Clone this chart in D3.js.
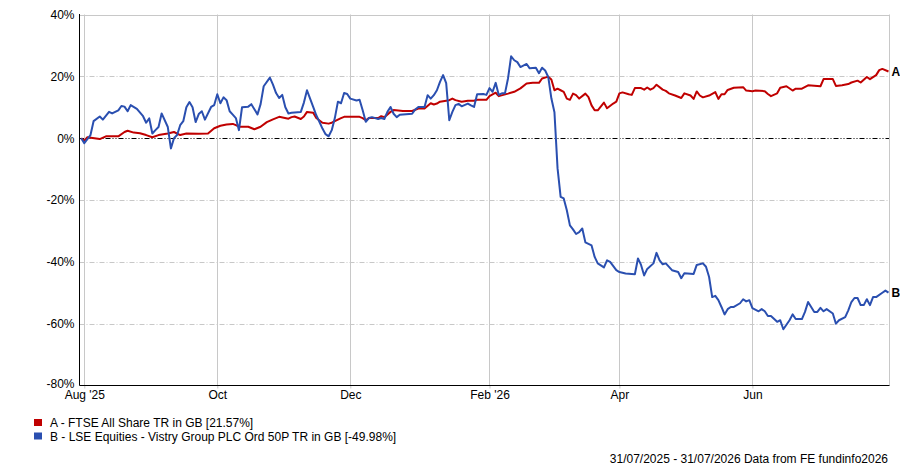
<!DOCTYPE html>
<html>
<head>
<meta charset="utf-8">
<script src="https://cdn.jsdelivr.net/npm/d3@7"></script>
<style>
  html, body { margin: 0; padding: 0; background: #fff; }
  svg { display: block; font-family: "Liberation Sans", Arial, sans-serif; }
</style>
</head>
<body>
<svg id="chart" width="900" height="467"></svg>
<script>
// x values are trading days (weekdays) counted from 31/07/2025
const ftseDay = [0,1,2,6,8,10,12,14,15,17,19,21,23,25,28,30,32,34,38,41,43,45,47,49,50,51,54,56,58,60,62,64,67,68,69,71,72,73,75,76,78,80,81,84,85,90,91,92,93,96,97,98,100,101,104,107,109,111,113,114,115,116,119,120,121,123,125,127,128,131,132,134,135,138,140,142,144,146,148,149,151,152,153,154,155,156,157,158,159,160,161,163,164,165,166,167,169,170,172,173,174,175,177,178,179,181,182,183,184,185,186,188,189,190,192,193,194,195,197,198,199,200,201,203,205,206,207,208,209,211,214,215,217,218,221,222,223,225,226,228,230,231,233,235,239,240,243,244,246,248,249,251,252,254,255,257,258,259,261];
const ftseValue = [0,-0.8,0.3,-0.3,0.6,0.6,0.6,2.0,2.4,1.8,1.6,1.0,0.3,1.0,1.5,2.0,1.0,1.5,1.4,1.5,3.2,4.0,4.4,4.6,4.2,3.7,3.7,2.9,3.7,5.2,6.1,6.9,6.3,6.8,7.0,6.2,7.0,8.5,8.2,6.5,5.0,4.7,5.0,6.5,6.9,6.9,6.5,5.8,6.5,6.5,7.1,6.8,8.5,9.1,8.8,8.8,9.6,9.6,11.3,10.9,11.2,11.8,12.3,12.8,12.3,11.8,12.1,12.1,12.4,12.4,13.6,14.7,13.6,14.4,15.0,16.1,17.7,17.9,17.9,19.3,19.9,19.0,15.5,16.0,15.5,15.0,12.8,12.4,14.4,13.9,12.8,14.4,13.3,10.6,9.0,9.0,11.5,9.7,11.2,11.8,14.5,14.8,14.2,14.0,16.2,16.2,15.7,16.4,15.7,16.2,17.3,15.7,15.3,14.5,13.8,13.4,13.0,14.5,13.8,12.7,15.1,13.8,13.2,13.8,14.9,12.7,14.2,14.2,15.6,16.3,16.5,15.4,15.2,15.4,15.2,14.3,13.6,14.5,16.3,16.8,15.4,16.0,16.0,17.1,16.8,19.1,19.1,16.9,17.1,17.5,18.0,18.6,18.0,19.8,19.1,20.4,22.0,22.4,21.57];

const vistryDay = [0,1,3,4,6,7,9,10,12,13,14,15,16,18,20,21,22,23,24,25,26,28,29,30,31,32,33,34,35,36,37,38,39,40,42,43,44,45,46,47,48,49,50,51,52,54,55,57,58,59,61,62,63,64,65,66,67,68,71,72,73,74,75,76,77,78,79,80,81,82,83,84,85,86,87,89,90,91,92,93,94,96,97,98,99,100,101,102,103,107,108,109,111,112,113,114,115,116,117,118,119,120,121,122,123,125,126,127,128,130,131,132,133,134,135,136,137,138,139,140,141,142,144,145,147,148,149,150,151,152,153,154,155,156,157,158,159,160,161,162,163,165,166,167,169,170,171,173,174,176,179,180,181,182,183,185,186,187,188,189,191,193,194,195,198,199,201,202,203,204,205,206,207,208,209,210,211,213,214,215,216,217,219,220,221,222,223,225,226,227,229,230,231,233,234,235,236,237,238,239,240,241,243,244,245,247,248,249,250,251,252,253,254,255,256,257,259,260,261];
const vistryValue = [0,-1.6,1.0,5.5,7.0,6.0,8.5,8.0,9.0,10.4,10.2,8.7,10.7,9.5,7.1,5.0,6.4,1.5,2.6,3.6,8.0,3.6,-3.3,0.0,1.0,4.2,5.5,10.0,11.7,10.0,5.2,7.8,8.7,6.0,10.1,10.7,14.2,11.3,13.2,12.3,8.7,7.6,6.5,2.6,10.0,10.2,11.0,7.7,11.0,16.8,19.6,17.3,14.6,13.0,14.0,10.0,8.0,8.2,8.5,11.5,15.5,12.8,10.1,7.4,5.3,3.1,1.3,0.6,2.6,6.5,11.8,11.3,14.6,14.3,12.8,12.2,12.4,9.0,5.3,6.5,6.8,6.2,6.5,6.2,8.5,10.1,7.9,6.8,7.6,7.9,9.3,10.1,10.1,13.9,12.8,13.9,15.5,18.2,20.4,17.8,5.8,8.5,10.7,11.1,10.3,11.2,10.6,10.1,14.2,14.3,14.0,16.2,15.0,17.9,14.0,14.5,14.5,19.4,26.5,25.2,24.6,23.0,24.0,22.6,22.8,21.0,22.8,21.9,19.8,12.9,8.4,-9.7,-19.0,-19.5,-23.3,-28.2,-29.5,-31.0,-30.4,-29.2,-33.7,-34.7,-38.4,-40.5,-41.8,-39.5,-40.0,-42.7,-43.3,-43.8,-44.0,-38.9,-41.0,-44.4,-42.3,-40.5,-37.1,-39.5,-40.8,-40.5,-42.7,-43.3,-45.3,-43.7,-43.9,-41.0,-40.5,-41.6,-44.9,-51.4,-51.0,-52.4,-54.6,-57.0,-55.3,-54.6,-54.6,-53.4,-52.1,-52.8,-52.4,-55.0,-56.0,-55.3,-56.0,-57.5,-57.5,-59.4,-58.9,-61.8,-58.9,-57.0,-58.5,-58.5,-56.2,-53.0,-54.6,-56.2,-56.2,-54.9,-56.0,-55.3,-56.7,-60.0,-58.9,-57.9,-55.7,-53.0,-51.7,-51.7,-54.0,-54.0,-52.1,-54.0,-51.4,-51.4,-50.0,-49.3,-49.98];

const xTickDates = ["2025-08-01","2025-10-01","2025-12-01","2026-02-02","2026-04-01","2026-06-01"];
const xTickLabels = ["Aug '25","Oct","Dec","Feb '26","Apr","Jun"];
const yTicks = [40,20,0,-20,-40,-60,-80];
const seriesNames = ["A - FTSE All Share TR in GB [21.57%]","B - LSE Equities - Vistry Group PLC Ord 50P TR in GB [-49.98%]"];
const seriesTags = ["A","B"];
const footerText = "31/07/2025 - 31/07/2026 Data from FE fundinfo2026";

(function () {
const START = new Date(2025, 6, 31);
const LAST_DAY = 261;
const FONT = "Liberation Sans, Arial, sans-serif";
function tradingIndex(str) {
  const [yy, mm, dd] = str.split("-").map(Number);
  const end = new Date(yy, mm - 1, dd);
  return d3.timeDay.range(d3.timeDay.offset(START, 1), d3.timeDay.offset(end, 1))
    .filter(d => d.getDay() !== 0 && d.getDay() !== 6).length;
}

const colors = ["#c00000", "#2a4fb0"];
const svg = d3.select("#chart");
const pl = 79.5, pr = 889.5, pt = 14.5, pb = 385.5;

const x = d3.scaleLinear().domain([0, LAST_DAY]).range([81.2, 888.5]);
const y = d3.scaleLinear().domain([-80, 40]).range([pb, pt]);

// horizontal grid
svg.append("g").selectAll("line").data(yTicks.filter(v => v !== -80)).join("line")
  .attr("x1", pl).attr("x2", pr)
  .attr("y1", d => Math.round(y(d)) + 0.5).attr("y2", d => Math.round(y(d)) + 0.5)
  .attr("stroke", d => d === 0 ? "#000" : "#c8c8c8")
  .attr("stroke-width", 1)
  .attr("stroke-dasharray", d => d === 40 ? null : (d === 0 ? "5,2,1,2,1,2" : "5,2,1,2"));

// vertical grid
const tickIdx = xTickDates.map(tradingIndex);
svg.append("g").selectAll("line").data(tickIdx).join("line")
  .attr("x1", d => Math.round(x(d)) + 0.5).attr("x2", d => Math.round(x(d)) + 0.5)
  .attr("y1", pt).attr("y2", pb)
  .attr("stroke", "#c8c8c8").attr("stroke-width", 1);
svg.append("line").attr("x1", pr).attr("x2", pr).attr("y1", pt).attr("y2", pb)
  .attr("stroke", "#c8c8c8");

// axes
const yAxis = svg.append("g").attr("transform", `translate(${pl},0)`)
  .call(d3.axisLeft(y).tickValues(yTicks).tickFormat(d => d + "%").tickSize(0).tickPadding(5));
yAxis.select(".domain").remove();
yAxis.selectAll("text").attr("font-size", 12).attr("fill", "#000").attr("font-family", FONT)
  .attr("dy", d => d === -80 ? "0.2em" : "0.32em");

const xAxis = svg.append("g").attr("transform", `translate(0,${pb})`)
  .call(d3.axisBottom(x).tickValues(tickIdx).tickFormat((d, i) => xTickLabels[i]).tickSize(3).tickPadding(2));
xAxis.select(".domain").remove();
xAxis.selectAll(".tick line").attr("stroke", "#c8c8c8");
xAxis.selectAll("text").attr("font-size", 12).attr("fill", "#000").attr("font-family", FONT);

svg.append("line").attr("x1", pl).attr("x2", pl).attr("y1", pt - 0.5).attr("y2", pb)
  .attr("stroke", "#000");
svg.append("line").attr("x1", pl).attr("x2", pr).attr("y1", pb).attr("y2", pb)
  .attr("stroke", "#000");

// series lines
const series = [
  {day: ftseDay, value: ftseValue},
  {day: vistryDay, value: vistryValue}
];
const line = d3.line().x(d => x(d[0])).y(d => y(d[1]));
series.forEach((s, i) => {
  const pts = s.day.map((d, k) => [d, s.value[k]]);
  svg.append("path").datum(pts)
    .attr("d", line).attr("fill", "none")
    .attr("stroke", colors[i]).attr("stroke-width", 2)
    .attr("stroke-linejoin", "round");
  const last = pts[pts.length - 1];
  svg.append("text").attr("x", x(last[0]) + 3).attr("y", y(last[1]) + 4.5)
    .attr("font-size", 12).attr("font-weight", "bold").attr("fill", "#000")
    .text(seriesTags[i]);
});

// legend
const leg = svg.append("g");
seriesNames.forEach((name, i) => {
  leg.append("rect").attr("x", 34).attr("y", 419 + i * 13.5).attr("width", 8).attr("height", 7)
    .attr("fill", colors[i]);
  leg.append("text").attr("x", 50).attr("y", 427 + i * 13.5)
    .attr("font-size", 12).attr("fill", "#000").text(name);
});

svg.append("text").attr("x", 888).attr("y", 463).attr("text-anchor", "end")
  .attr("font-size", 12).attr("fill", "#000").text(footerText);
})();
</script>
</body>
</html>
